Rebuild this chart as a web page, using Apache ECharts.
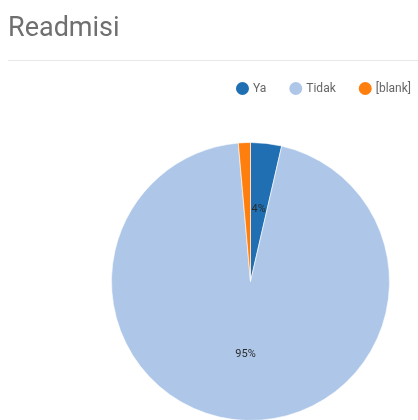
<!DOCTYPE html>
<html><head><meta charset="utf-8">
<script src="https://cdn.jsdelivr.net/npm/echarts@6/dist/echarts.min.js"></script>
<style>html,body{margin:0;padding:0;background:#fff}#c{width:418px;height:420px}</style>
</head><body><div id="c"></div>
<script>
const categories = ['Ya', 'Tidak', '[blank]'];
const values = [18, 475, 7];
const colors = ['#1f6fb2', '#aec7e8', '#ff7f0e'];
const titleText = 'Readmisi';

const chart = echarts.init(document.getElementById('c'));
chart.setOption({
  animation: false,
  title: { text: titleText, left: 3, top: 11, textStyle: { fontFamily: 'Roboto', fontSize: 27, fontWeight: 'normal', color: '#6f6f6f' } },
  graphic: [{ type: 'line', shape: { x1: 8, y1: 60.5, x2: 418, y2: 60.5 }, style: { stroke: '#e8e8e8', lineWidth: 1 } }],
  legend: {
    right: 2, top: 75, icon: 'circle', itemWidth: 15, itemHeight: 15, itemGap: 21,
    textStyle: { fontFamily: 'Roboto', fontSize: 12, color: '#666', padding: [0, 0, 0, -2] },
    data: categories
  },
  series: [{
    type: 'pie', center: [250.5, 281.5], radius: [0, 139], startAngle: 90, clockwise: true,
    label: {
      position: 'inside', fontFamily: 'Roboto', fontSize: 11, color: '#2b2b2b',
      formatter: p => p.percent < 2 ? '' : Math.round(p.percent) + '%'
    },
    labelLine: { show: false },
    itemStyle: { borderColor: '#fff', borderWidth: 0.6 },
    data: categories.map((c, i) => ({ name: c, value: values[i], itemStyle: { color: colors[i] } }))
  }]
});
</script></body></html>
